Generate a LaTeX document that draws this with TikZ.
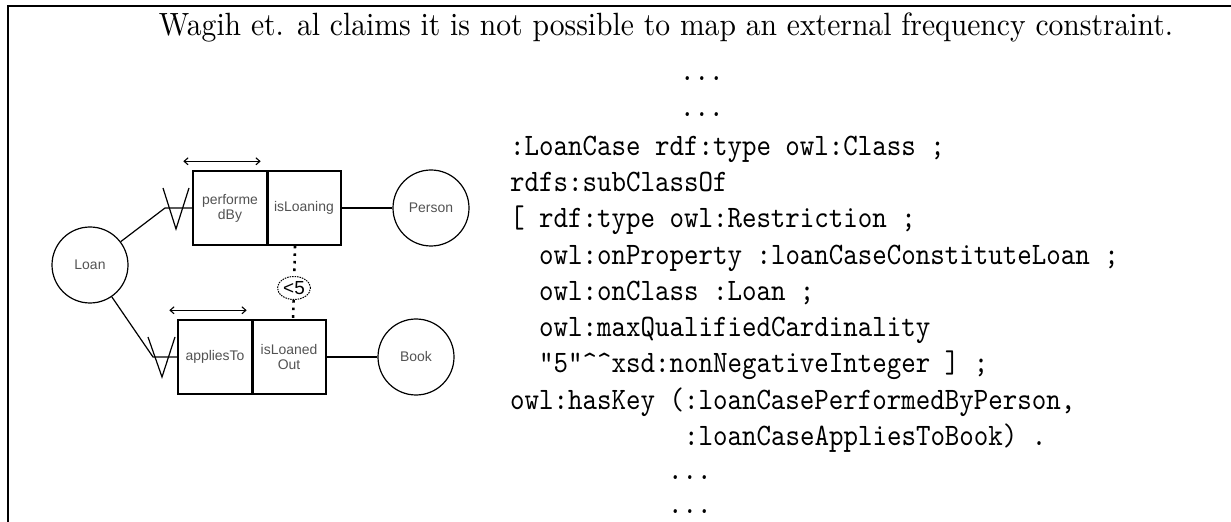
\documentclass[tikz,border=0pt]{standalone}
\usepackage{fontspec}
\newfontfamily\diagfont{Liberation Sans}
\newfontfamily\titlefont{lmroman10-regular.otf}[FakeStretch=0.92]
\newfontfamily\codefont{lmmono10-regular.otf}[FakeStretch=0.885]
\usetikzlibrary{arrows.meta,shapes.geometric}
\begin{document}
\begin{tikzpicture}[x=1bp,y=-1bp,
  ent/.style={draw, circle, minimum size=76bp, inner sep=0pt, line width=1.2bp,
    font=\diagfont\fontsize{14}{15}\selectfont, text=black!68},
  cell/.style={draw, minimum width=74bp, minimum height=74bp, inner sep=0pt, line width=1.4bp,
    font=\diagfont\fontsize{14}{15}\selectfont, text=black!68, align=center},
  conn/.style={line width=1.2bp},
  divider/.style={line width=2.2bp},
  vmark/.style={line width=1.2bp},
  uniq/.style={line width=1.1bp, {Straight Barb[length=4bp,width=7bp]}-{Straight Barb[length=4bp,width=7bp]}},
  dotline/.style={line width=2.6bp, dash pattern=on 2.6bp off 5bp},
  freq/.style={draw, ellipse, minimum width=33bp, minimum height=23bp, inner sep=0pt,
    line width=1bp, dash pattern=on 1.5bp off 1bp, font=\diagfont\fontsize{19}{20}\selectfont},
  code/.style={anchor=base west, inner sep=0pt, font=\codefont\fontsize{31.3}{34}\selectfont},
  title/.style={anchor=base, inner sep=0pt, font=\titlefont\fontsize{32.3}{35}\selectfont}
]
\useasboundingbox (0,0) rectangle (1231,522);
\draw[line width=2bp] (1231,6) -- (8,6) -- (8,522);

\node[title] (t) at (666,36) {Wagih et. al claims it is not possible to map an external frequency constraint.};

% ORM diagram
\node[ent] (loan) at (90,265) {Loan};
\node[ent] (person) at (431,208) {Person};
\node[ent] (book) at (416,357) {Book};
\node[cell] (pb) at (230,208) {performe\\dBy};
\node[cell] (il) at (304,208) {isLoaning};
\node[cell] (at) at (215,357) {appliesTo};
\node[cell] (ilo) at (289,357) {isLoaned\\Out};
\draw[divider] (pb.north east) -- (pb.south east);
\draw[divider] (at.north east) -- (at.south east);

\coordinate (j1) at (165,208);
\coordinate (j2) at (153,357);
\draw[conn] (loan) -- (j1) -- (pb.west);
\draw[conn] (loan) -- (j2) -- (at.west);
\draw[vmark] ([shift={(-2,-20)}]j1) -- ([shift={(11,21)}]j1) -- ([shift={(24,-20)}]j1);
\draw[vmark] ([shift={(-5,-20)}]j2) -- ([shift={(9,20)}]j2) -- ([shift={(22,-20)}]j2);
\draw[conn] (il.east) -- (person);
\draw[conn] (ilo.east) -- (book);

\draw[uniq] ([shift={(-9,-9)}]pb.north west) -- ([shift={(-7,-9)}]pb.north east);
\draw[uniq] ([shift={(-8,-9)}]at.north west) -- ([shift={(-6,-9)}]at.north east);

\node[freq] (c5) at (294,288) {<5};
\draw[dotline] ([xshift=-9bp]il.south) -- (c5);
\draw[dotline] (c5) -- ([xshift=4bp]ilo.north);

% code
\node[code] (l0) at (680,81) {...};
\node[code] (l1) at (680,117) {...};
\node[code] (l2) at (510,156) {:LoanCase rdf:type owl:Class ;};
\node[code] (l3) at (510,192) {rdfs:subClassOf};
\node[code] (l4) at (510,228) {[ rdf:type owl:Restriction ;};
\node[code] (l5) at (539,265) {owl:onProperty :loanCaseConstituteLoan ;};
\node[code] (l6) at (539,301) {owl:onClass :Loan ;};
\node[code] (l7) at (539,337) {owl:maxQualifiedCardinality};
\node[code] (l8) at (539,373) {"5"\textasciicircum\textasciicircum xsd:nonNegativeInteger ] ;};
\node[code] (l9) at (510,409) {owl:hasKey (:loanCasePerformedByPerson,};
\node[code] (l10) at (684,445) {:loanCaseAppliesToBook) .};
\node[code] (l11) at (668,479) {...};
\node[code] (l12) at (668,513) {...};
\end{tikzpicture}
\end{document}
